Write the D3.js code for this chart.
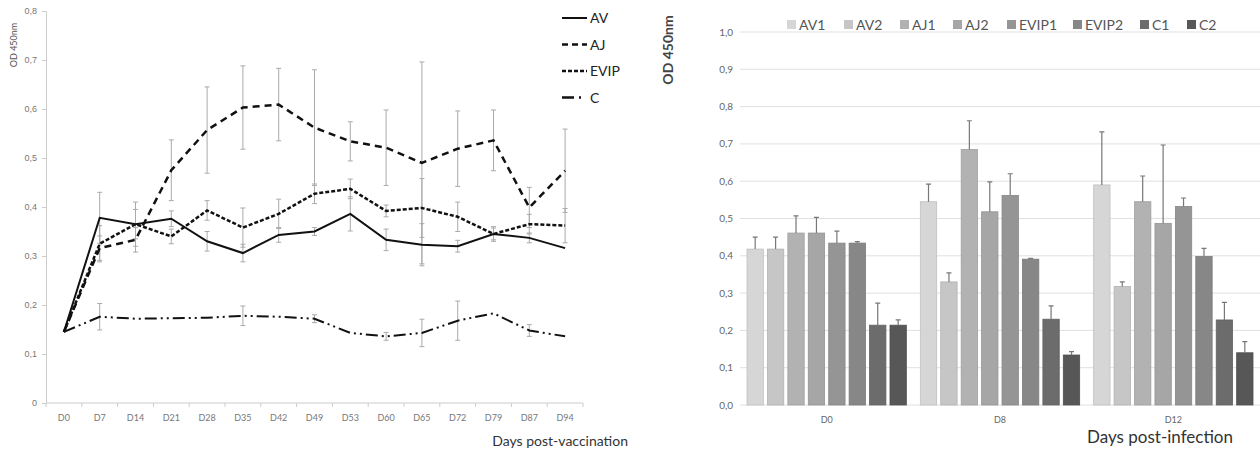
<!DOCTYPE html>
<html>
<head>
<meta charset="utf-8">
<script src="https://cdn.jsdelivr.net/npm/d3@7"></script>
<style>
  body { margin: 0; background: #fff; }
  svg { display: block; font-family: Lato, "Open Sans", sans-serif; }
</style>
</head>
<body>
<script>
// ---- left chart data (post-vaccination) ----
var days = ["D0","D7","D14","D21","D28","D35","D42","D49","D53","D60","D65","D72","D79","D87","D94"];
var avVals   = [0.145,0.378,0.365,0.376,0.330,0.306,0.343,0.350,0.386,0.333,0.323,0.320,0.345,0.337,0.316];
var avErr    = [0,0.052,0.045,0.016,0.020,0.018,0.015,0.008,0.035,0.022,0.043,0.012,0.012,0.010,0];
var ajVals   = [0.145,0.316,0.333,0.475,0.557,0.603,0.609,0.562,0.534,0.521,0.490,0.519,0.536,0.399,0.474];
var ajErr    = [0,0.025,0.025,0.062,0.088,0.085,0.074,0.118,0.040,0.077,0.206,0.077,0.062,0.041,0.085];
var evipVals = [0.145,0.325,0.365,0.340,0.393,0.358,0.386,0.427,0.437,0.392,0.398,0.380,0.345,0.365,0.362];
var evipErr  = [0,0.037,0.030,0.015,0.020,0.040,0.030,0.020,0.020,0.012,0.060,0.030,0.015,0.020,0.035];
var cVals    = [0.145,0.176,0.172,0.173,0.174,0.178,0.176,0.172,0.143,0.136,0.143,0.168,0.183,0.148,0.136];
var cErr     = [0,0.027,0,0,0,0.020,0,0.008,0,0.008,0.028,0.040,0,0.012,0];
var leftTicks = [0,0.1,0.2,0.3,0.4,0.5,0.6,0.7,0.8];

// ---- right chart data (post-infection) ----
var groups = ["D0","D8","D12"];
var barSeries = ["AV1","AV2","AJ1","AJ2","EVIP1","EVIP2","C1","C2"];
var barVals = [
  [0.418,0.418,0.461,0.461,0.434,0.434,0.214,0.214],
  [0.545,0.330,0.685,0.518,0.562,0.391,0.230,0.134],
  [0.590,0.318,0.545,0.487,0.532,0.398,0.228,0.140]
];
var barErr = [
  [0.032,0.032,0.046,0.042,0.032,0.004,0.059,0.014],
  [0.047,0.024,0.077,0.080,0.058,0.002,0.036,0.009],
  [0.142,0.012,0.069,0.210,0.023,0.022,0.047,0.030]
];
var rightTicks = [0,0.1,0.2,0.3,0.4,0.5,0.6,0.7,0.8,0.9,1.0];
var barColors = ["#d6d6d6","#c6c6c6","#b2b2b2","#a6a6a6","#959595","#878787","#6c6c6c","#575757"];

var fmt = function(v) { return d3.format(".1f")(v).replace(".", ","); };
var fmtL = function(v) { return v === 0 ? "0" : fmt(v); };

var svg = d3.select("body").append("svg")
  .attr("width", 1260)
  .attr("height", 453);

// ================= LEFT: line chart =================
var lx = d3.scalePoint().domain(days).range([46, 583]).padding(0.5);
var ly = d3.scaleLinear().domain([0, 0.8]).range([403, 11]);

var left = svg.append("g");

var yAxisL = left.append("g")
  .attr("transform", "translate(46,0)")
  .call(d3.axisLeft(ly).tickValues(leftTicks).tickFormat(fmtL).tickSize(4));
yAxisL.selectAll("text").attr("fill", "#777").style("font-size", "9px").attr("x", -9);
yAxisL.selectAll("line").attr("stroke", "#ccc");
yAxisL.select(".domain").attr("stroke", "#ccc");

var step = lx.step();
var xAxisL = left.append("g")
  .attr("transform", "translate(0,403)");
xAxisL.append("line")
  .attr("x1", 46).attr("x2", 583)
  .attr("stroke", "#ccc");
xAxisL.selectAll(".tk").data(d3.range(days.length + 1))
  .enter().append("line")
  .attr("x1", d => 46 + d * step).attr("x2", d => 46 + d * step)
  .attr("y1", 0).attr("y2", 4)
  .attr("stroke", "#ccc");
xAxisL.selectAll("text").data(days)
  .enter().append("text")
  .attr("x", d => lx(d))
  .attr("y", 18)
  .attr("text-anchor", "middle")
  .attr("fill", "#777")
  .style("font-size", "9px")
  .text(d => d);

left.append("text")
  .attr("transform", "translate(17,45) rotate(-90)")
  .attr("text-anchor", "middle")
  .attr("fill", "#555")
  .style("font-size", "9px")
  .text("OD 450nm");

left.append("text")
  .attr("x", 628).attr("y", 446)
  .attr("text-anchor", "end")
  .attr("fill", "#333")
  .style("font-size", "14px")
  .text("Days post-vaccination");

var lineSeries = [
  { name: "AV",   vals: avVals,   err: avErr,   dash: null,               w: 2 },
  { name: "AJ",   vals: ajVals,   err: ajErr,   dash: "7,5",              w: 2.5 },
  { name: "EVIP", vals: evipVals, err: evipErr, dash: "4,2",              w: 2.5 },
  { name: "C",    vals: cVals,    err: cErr,    dash: "12,4,2,4,2,4",     w: 2.5 }
];

// error bars first (under lines)
lineSeries.forEach(function(s) {
  var eg = left.append("g").attr("stroke", "#aaa").attr("stroke-width", 1);
  s.vals.forEach(function(v, i) {
    var e = s.err[i];
    if (!e) return;
    var x = lx(days[i]);
    eg.append("line").attr("x1", x).attr("x2", x).attr("y1", ly(v - e)).attr("y2", ly(v + e));
    eg.append("line").attr("x1", x - 2.5).attr("x2", x + 2.5).attr("y1", ly(v - e)).attr("y2", ly(v - e));
    eg.append("line").attr("x1", x - 2.5).attr("x2", x + 2.5).attr("y1", ly(v + e)).attr("y2", ly(v + e));
  });
});

var line = d3.line()
  .x((d, i) => lx(days[i]))
  .y(d => ly(d));

lineSeries.forEach(function(s) {
  left.append("path")
    .datum(s.vals)
    .attr("d", line)
    .attr("fill", "none")
    .attr("stroke", "#111")
    .attr("stroke-width", s.name === "C" ? 2 : s.w)
    .attr("stroke-dasharray", s.dash);
});

// legend
var leg = left.append("g");
lineSeries.forEach(function(s, i) {
  var y = 18 + i * 26.5;
  leg.append("line")
    .attr("x1", 562).attr("x2", 587)
    .attr("y1", y).attr("y2", y)
    .attr("stroke", "#111")
    .attr("stroke-width", s.w)
    .attr("stroke-dasharray", s.name === "C" ? "12,5,2,10" : s.name === "AJ" ? "6,4" : s.dash);
  leg.append("text")
    .attr("x", 590).attr("y", y + 5)
    .attr("fill", "#222")
    .style("font-size", "14px")
    .text(s.name);
});

// ================= RIGHT: bar chart =================
var rx = d3.scaleBand().domain(groups).range([740, 1260]);
var rxi = d3.scaleBand().domain(barSeries).range([7, rx.bandwidth() - 7]).paddingInner(0.2);
var ry = d3.scaleLinear().domain([0, 1.0]).range([405, 32]);

var right = svg.append("g");

right.append("g").selectAll("line").data(rightTicks)
  .enter().append("line")
  .attr("x1", 740).attr("x2", 1260)
  .attr("y1", d => ry(d)).attr("y2", d => ry(d))
  .attr("stroke", "#e0e0e0");

right.append("g").selectAll("text").data(rightTicks)
  .enter().append("text")
  .attr("x", 733)
  .attr("y", d => ry(d) + 3.5)
  .attr("text-anchor", "end")
  .attr("fill", "#666")
  .style("font-size", "10px")
  .text(fmt);

var grp = right.selectAll(".grp").data(groups)
  .enter().append("g")
  .attr("transform", d => "translate(" + rx(d) + ",0)");

grp.selectAll("rect").data((g, gi) => barSeries.map((s, si) => ({ s: s, si: si, v: barVals[gi][si], e: barErr[gi][si] })))
  .enter().append("rect")
  .attr("x", d => rxi(d.s))
  .attr("y", d => ry(d.v))
  .attr("width", rxi.bandwidth())
  .attr("height", d => ry(0) - ry(d.v))
  .attr("fill", d => barColors[d.si])
  .attr("stroke", d => d3.color(barColors[d.si]).darker(0.3))
  .attr("stroke-width", 0.8);

grp.selectAll(".err").data((g, gi) => barSeries.map((s, si) => ({ s: s, v: barVals[gi][si], e: barErr[gi][si] })))
  .enter().append("path")
  .attr("d", function(d) {
    var x = rxi(d.s) + rxi.bandwidth() / 2;
    var y0 = ry(d.v), y1 = ry(d.v + d.e);
    return "M" + x + "," + y0 + "V" + y1 + "M" + (x - 2.5) + "," + y1 + "H" + (x + 2.5);
  })
  .attr("fill", "none")
  .attr("stroke", "#777")
  .attr("stroke-width", 1.2);

right.append("g").selectAll("text").data(groups)
  .enter().append("text")
  .attr("x", d => rx(d) + rx.bandwidth() / 2)
  .attr("y", 423)
  .attr("text-anchor", "middle")
  .attr("fill", "#666")
  .style("font-size", "9px")
  .text(d => d);

right.append("text")
  .attr("transform", "translate(673,50) rotate(-90)")
  .attr("text-anchor", "middle")
  .attr("fill", "#444")
  .style("font-size", "14px")
  .style("font-weight", "bold")
  .text("OD 450nm");

right.append("text")
  .attr("x", 1160).attr("y", 443)
  .attr("text-anchor", "middle")
  .attr("fill", "#333")
  .style("font-size", "17px")
  .text("Days post-infection");

// legend
var legX = [787, 844, 900, 953, 1007, 1073, 1140, 1187];
var rleg = right.append("g");
barSeries.forEach(function(s, i) {
  rleg.append("rect")
    .attr("x", legX[i]).attr("y", 20)
    .attr("width", 9).attr("height", 9)
    .attr("fill", barColors[i]);
  rleg.append("text")
    .attr("x", legX[i] + 12).attr("y", 30)
    .attr("fill", "#555")
    .style("font-size", "14px")
    .text(s);
});
</script>
</body>
</html>
